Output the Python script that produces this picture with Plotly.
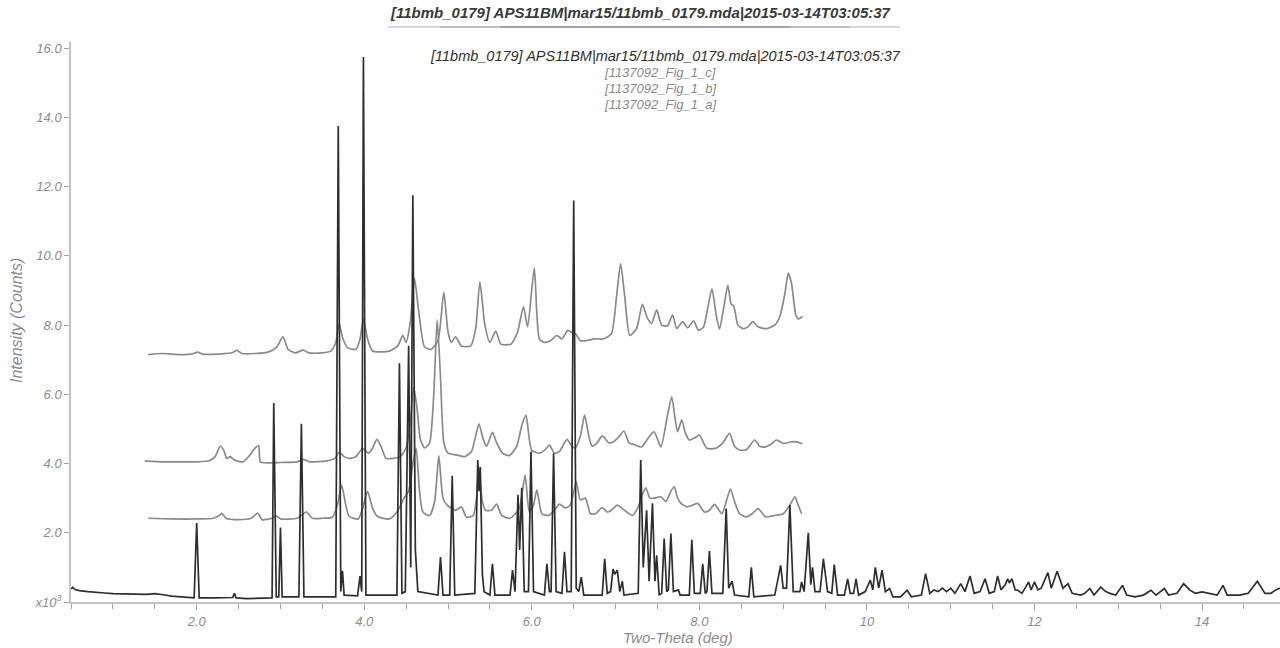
import plotly.graph_objects as go

# ---------------- data (intensity in thousands of counts) ----------------
black_tth = [0.50, 0.52, 0.55, 0.60, 0.70, 0.80, 0.90, 1.00, 1.10, 1.20, 1.30, 1.40, 1.50, 1.55, 1.60, 1.70, 1.80, 1.90,
             1.97, 2.00, 2.03, 2.20, 2.40, 2.43, 2.45, 2.47, 2.60, 2.80, 2.90, 2.92, 2.95, 2.98, 3.00, 3.02, 3.22, 3.25,
             3.28, 3.66, 3.69, 3.72, 3.74, 3.76, 3.92, 3.95, 3.97, 3.99, 4.02, 4.39, 4.42, 4.45, 4.49, 4.53, 4.555,
             4.58, 4.61, 4.64, 4.88, 4.91, 4.94, 5.02, 5.05, 5.08, 5.32, 5.355, 5.37, 5.385, 5.41, 5.43, 5.50, 5.53,
             5.56, 5.74, 5.77, 5.80, 5.835, 5.855, 5.88, 5.91, 5.96, 5.99, 6.02, 6.15, 6.18, 6.21, 6.23, 6.26, 6.29,
             6.36, 6.39, 6.42, 6.47, 6.50, 6.53, 6.56, 6.59, 6.62, 6.84, 6.87, 6.90, 6.94, 6.97, 6.99, 7.02, 7.05,
             7.08, 7.10, 7.27, 7.30, 7.33, 7.37, 7.40, 7.44, 7.47, 7.49, 7.52, 7.55, 7.58, 7.61, 7.63, 7.66, 7.69,
             7.75, 7.77, 7.88, 7.91, 7.94, 8.01, 8.04, 8.07, 8.09, 8.12, 8.15, 8.28, 8.32, 8.35, 8.39, 8.42, 8.59,
             8.62, 8.65, 8.90, 8.97, 9.00, 9.04, 9.08, 9.12, 9.20, 9.22, 9.25, 9.30, 9.33, 9.35, 9.38, 9.44, 9.48,
             9.53, 9.58, 9.61, 9.65, 9.73, 9.77, 9.80, 9.84, 9.87, 9.90, 9.98, 10.04, 10.07, 10.10, 10.14, 10.18,
             10.22, 10.27, 10.31, 10.40, 10.48, 10.53, 10.65, 10.70, 10.75, 10.80, 10.85, 10.90, 10.95, 11.00,
             11.05, 11.12, 11.17, 11.23, 11.28, 11.35, 11.41, 11.46, 11.52, 11.56, 11.60, 11.65, 11.68, 11.70,
             11.73, 11.77, 11.80, 11.85, 11.90, 11.93, 11.96, 12.00, 12.04, 12.08, 12.16, 12.20, 12.27, 12.34,
             12.40, 12.45, 12.55, 12.60, 12.66, 12.71, 12.79, 12.85, 12.90, 12.97, 13.05, 13.10, 13.20, 13.30,
             13.39, 13.45, 13.55, 13.60, 13.70, 13.78, 13.85, 13.92, 14.00, 14.10, 14.18, 14.25, 14.30, 14.45,
             14.55, 14.66, 14.75, 14.82, 14.88, 14.93]
black_int = [0.38, 0.42, 0.36, 0.33, 0.30, 0.27, 0.26, 0.24, 0.23, 0.22, 0.21, 0.22, 0.24, 0.23, 0.21, 0.17, 0.15, 0.13,
             0.12, 2.28, 0.12, 0.12, 0.11, 0.13, 0.25, 0.12, 0.10, 0.11, 0.12, 5.75, 0.15, 0.15, 2.15, 0.15, 0.15, 5.15,
             0.15, 0.15, 13.75, 0.30, 0.90, 0.20, 0.18, 0.75, 0.30, 15.75, 0.20, 0.20, 6.90, 0.25, 0.30, 7.40, 1.00,
             11.75, 1.50, 0.30, 0.20, 1.30, 0.20, 0.20, 3.65, 0.20, 0.25, 4.10, 3.20, 3.90, 0.80, 0.30, 0.20, 1.10,
             0.20, 0.20, 0.92, 0.30, 3.10, 1.50, 3.30, 0.30, 0.30, 4.35, 0.30, 0.20, 1.10, 0.30, 0.30, 4.30, 0.30,
             0.25, 1.45, 0.30, 0.30, 11.60, 0.40, 0.30, 0.72, 0.20, 0.20, 1.25, 0.25, 0.30, 0.95, 0.80, 0.92, 0.30,
             0.60, 0.20, 0.25, 4.10, 1.00, 2.65, 0.60, 2.85, 0.60, 1.35, 0.20, 0.25, 1.83, 0.30, 0.35, 1.98, 0.30,
             0.35, 0.20, 0.20, 1.80, 0.25, 0.25, 1.10, 0.25, 0.30, 1.47, 0.25, 0.25, 2.70, 0.40, 0.60, 0.20, 0.15,
             1.00, 0.15, 0.20, 1.06, 0.40, 0.40, 2.80, 0.30, 0.30, 0.58, 0.30, 2.00, 0.50, 1.00, 0.30, 0.30, 1.25,
             0.30, 0.25, 1.08, 0.20, 0.20, 0.67, 0.25, 0.25, 0.67, 0.20, 0.30, 0.63, 0.35, 1.00, 0.40, 0.92,
             0.30, 0.39, 0.15, 0.15, 0.34, 0.15, 0.20, 0.82, 0.25, 0.35, 0.30, 0.40, 0.30, 0.40,
             0.25, 0.53, 0.30, 0.75, 0.25, 0.30, 0.67, 0.25, 0.30, 0.75, 0.35, 0.50, 0.67, 0.55,
             0.67, 0.35, 0.34, 0.25, 0.45, 0.58, 0.35, 0.58, 0.35, 0.40, 0.85, 0.40, 0.89, 0.40,
             0.53, 0.25, 0.20, 0.25, 0.39, 0.20, 0.43, 0.30, 0.25, 0.20, 0.48, 0.20, 0.15, 0.20,
             0.34, 0.20, 0.39, 0.20, 0.25, 0.53, 0.35, 0.25, 0.29, 0.25, 0.20, 0.48, 0.20, 0.20,
             0.25, 0.60, 0.25, 0.25, 0.35, 0.40]

fig_c_tth = [1.42, 1.60, 1.80, 1.95, 2.01, 2.07, 2.30, 2.42, 2.48, 2.54, 2.70, 2.85, 2.95, 3.03, 3.09, 3.18, 3.27, 3.34,
             3.50, 3.60, 3.66, 3.70, 3.74, 3.80, 3.90, 3.95, 3.99, 4.04, 4.10, 4.30, 4.40, 4.46, 4.50, 4.55, 4.60,
             4.65, 4.72, 4.80, 4.88, 4.95, 5.00, 5.04, 5.09, 5.16, 5.27, 5.33, 5.38, 5.44, 5.50, 5.57, 5.63, 5.75,
             5.83, 5.90, 5.95, 6.03, 6.09, 6.15, 6.22, 6.30, 6.36, 6.43, 6.47, 6.52, 6.58, 6.65, 6.75, 6.85, 6.95,
             7.01, 7.06, 7.11, 7.17, 7.25, 7.32, 7.38, 7.43, 7.49, 7.55, 7.62, 7.68, 7.73, 7.80, 7.86, 7.93, 7.99,
             8.05, 8.10, 8.15, 8.20, 8.24, 8.29, 8.34, 8.38, 8.41, 8.46, 8.52, 8.58, 8.64, 8.70, 8.80, 8.90, 8.96,
             9.02, 9.06, 9.10, 9.15, 9.18, 9.23]
fig_c_int = [7.15, 7.18, 7.15, 7.17, 7.22, 7.16, 7.17, 7.20, 7.27, 7.18, 7.18, 7.22, 7.35, 7.66, 7.30, 7.20, 7.28, 7.20,
             7.20, 7.25, 7.50, 8.05, 7.65, 7.35, 7.30, 7.60, 8.18, 7.60, 7.25, 7.25, 7.40, 7.70, 7.50, 8.10, 9.35,
             8.40, 7.37, 7.30, 7.55, 8.95, 7.80, 7.50, 7.66, 7.40, 7.40, 7.90, 9.25, 8.00, 7.50, 7.83, 7.45, 7.45,
             7.80, 8.53, 7.95, 9.65, 7.60, 7.50, 7.55, 7.70, 7.60, 7.85, 7.80, 7.75, 7.55, 7.55, 7.60, 7.60, 7.75,
             8.80, 9.78, 8.80, 7.70, 7.90, 8.60, 8.20, 8.05, 8.44, 8.00, 7.98, 8.30, 7.90, 8.10, 7.92, 8.12, 7.85,
             7.95, 8.50, 9.05, 8.30, 7.88, 8.50, 9.15, 8.60, 8.55, 8.00, 7.90, 7.95, 8.10, 7.95, 7.90, 8.00, 8.25,
             8.90, 9.50, 9.20, 8.30, 8.18, 8.25]

fig_b_tth = [1.38, 1.60, 1.80, 2.00, 2.15, 2.22, 2.28, 2.32, 2.36, 2.40, 2.45, 2.55, 2.62, 2.70, 2.74, 2.76, 2.85, 3.00,
             3.20, 3.27, 3.35, 3.55, 3.65, 3.70, 3.76, 3.82, 3.90, 3.98, 4.05, 4.10, 4.15, 4.20, 4.26, 4.35, 4.43,
             4.50, 4.55, 4.59, 4.63, 4.67, 4.72, 4.78, 4.83, 4.87, 4.91, 4.95, 5.00, 5.10, 5.20, 5.28, 5.33, 5.37,
             5.42, 5.46, 5.53, 5.58, 5.65, 5.73, 5.82, 5.88, 5.93, 5.97, 6.00, 6.09, 6.16, 6.21, 6.27, 6.33, 6.42,
             6.48, 6.52, 6.58, 6.63, 6.68, 6.72, 6.78, 6.84, 6.92, 6.97, 7.03, 7.10, 7.16, 7.22, 7.31, 7.38, 7.46,
             7.54, 7.62, 7.67, 7.71, 7.74, 7.79, 7.83, 7.88, 7.95, 8.00, 8.09, 8.19, 8.28, 8.36, 8.42, 8.48, 8.56,
             8.66, 8.72, 8.79, 8.85, 8.92, 9.00, 9.10, 9.17, 9.23]
fig_b_int = [4.08, 4.05, 4.05, 4.05, 4.08, 4.20, 4.50, 4.40, 4.15, 4.20, 4.10, 4.05, 4.20, 4.45, 4.52, 4.05, 4.02, 4.03,
             4.05, 4.12, 4.05, 4.08, 4.15, 4.33, 4.20, 4.15, 4.20, 4.43, 4.30, 4.45, 4.70, 4.50, 4.15, 4.15, 4.20,
             4.45, 5.20, 6.20, 5.60, 4.70, 4.45, 4.60, 6.00, 8.15, 6.50, 4.60, 4.30, 4.25, 4.20, 4.35, 4.80, 5.15,
             4.70, 4.50, 4.90, 4.60, 4.30, 4.23, 4.50, 5.10, 5.40, 4.70, 4.38, 4.30, 4.40, 4.53, 4.30, 4.35, 4.70,
             4.50, 4.45, 4.80, 5.40, 4.80, 4.50, 4.60, 4.80, 4.60, 4.62, 4.75, 4.94, 4.60, 4.55, 4.48, 4.70, 4.92,
             4.48, 5.40, 5.93, 5.30, 4.92, 5.26, 4.90, 4.68, 4.75, 4.82, 4.44, 4.44, 4.60, 4.87, 4.50, 4.39, 4.40,
             4.68, 4.50, 4.48, 4.55, 4.68, 4.58, 4.63, 4.62, 4.57]

fig_a_tth = [1.42, 1.70, 2.00, 2.20, 2.27, 2.30, 2.35, 2.50, 2.65, 2.73, 2.78, 2.90, 2.95, 3.00, 3.20, 3.31, 3.38, 3.50,
             3.62, 3.68, 3.73, 3.78, 3.82, 3.93, 3.98, 4.04, 4.10, 4.16, 4.30, 4.39, 4.48, 4.53, 4.58, 4.62, 4.66,
             4.70, 4.78, 4.84, 4.89, 4.94, 4.99, 5.09, 5.16, 5.22, 5.30, 5.34, 5.37, 5.41, 5.45, 5.52, 5.58, 5.64,
             5.74, 5.85, 5.92, 5.97, 6.02, 6.06, 6.12, 6.20, 6.27, 6.33, 6.40, 6.46, 6.53, 6.58, 6.64, 6.70, 6.76,
             6.84, 6.90, 6.95, 7.02, 7.08, 7.15, 7.20, 7.26, 7.32, 7.36, 7.41, 7.46, 7.54, 7.60, 7.66, 7.70, 7.74,
             7.78, 7.85, 7.92, 7.98, 8.06, 8.12, 8.18, 8.27, 8.32, 8.37, 8.42, 8.48, 8.56, 8.63, 8.70, 8.79, 8.90,
             9.00, 9.08, 9.14, 9.18, 9.22]
fig_a_int = [2.42, 2.40, 2.40, 2.42, 2.50, 2.56, 2.42, 2.38, 2.42, 2.57, 2.38, 2.42, 2.49, 2.40, 2.42, 2.60, 2.42, 2.42,
             2.45, 2.80, 3.38, 2.80, 2.47, 2.40, 2.70, 3.20, 2.70, 2.47, 2.40, 2.60, 3.03, 3.20, 4.00, 4.43, 3.20,
             2.60, 2.50, 2.90, 4.22, 3.00, 2.80, 2.65, 2.75, 2.45, 2.50, 3.00, 3.90, 2.90, 2.65, 2.65, 2.83, 2.50,
             2.42, 2.70, 3.67, 2.60, 2.80, 3.24, 2.55, 2.50, 2.65, 2.83, 2.72, 2.80, 3.47, 2.95, 3.00, 2.55, 2.55,
             2.73, 2.60, 2.65, 2.80, 2.70, 2.57, 2.50, 2.70, 3.10, 3.30, 3.00, 3.00, 3.04, 2.90, 3.20, 3.33, 3.00,
             2.85, 2.75, 2.80, 2.85, 2.60, 2.65, 2.82, 2.55, 2.90, 3.26, 2.90, 2.55, 2.46, 2.55, 2.70, 2.46, 2.50,
             2.55, 2.80, 3.04, 2.80, 2.55]

title_text = "[11bmb_0179] APS11BM|mar15/11bmb_0179.mda|2015-03-14T03:05:37"
series_names = ["[11bmb_0179] APS11BM|mar15/11bmb_0179.mda|2015-03-14T03:05:37",
                "[1137092_Fig_1_c]", "[1137092_Fig_1_b]", "[1137092_Fig_1_a]"]
x_tickvals = [2, 4, 6, 8, 10, 12, 14]
x_ticktext = ["2.0", "4.0", "6.0", "8.0", "10", "12", "14"]
y_tickvals = [0, 2, 4, 6, 8, 10, 12, 14, 16]
y_ticktext = ["x10<sup>3</sup>", "2.0", "4.0", "6.0", "8.0", "10.0", "12.0", "14.0", "16.0"]

# ---------------- figure ----------------
FONT = "Liberation Sans, Arial, sans-serif"
GRAY = "#8a8a8a"
DARK = "#2e2e2e"
LABEL = "#8c8c8c"

fig = go.Figure()
for xs, ys, nm in [(fig_a_tth, fig_a_int, series_names[3]),
                   (fig_b_tth, fig_b_int, series_names[2]),
                   (fig_c_tth, fig_c_int, series_names[1])]:
    fig.add_trace(go.Scatter(x=xs, y=ys, mode="lines", name=nm,
                             line=dict(color=GRAY, width=1.7, shape="spline", smoothing=0.6),
                             showlegend=False))
fig.add_trace(go.Scatter(x=black_tth, y=black_int, mode="lines", name=series_names[0],
                         line=dict(color=DARK, width=1.7), showlegend=False))

# page is rendered with body margin removed (see post_script), so page px == figure px
W, H = 1280, 648
PL, PT, PB, PR = 71, 42, 602, 1280   # plot area in page pixels
pw, ph = PR - PL, PB - PT

def px(xp):
    return (xp - PL) / pw

def py(yp):
    return (PB - yp) / ph

annotations = [
    dict(text=title_text, x=px(640), y=py(13), xref="paper", yref="paper", showarrow=False,
         font=dict(family=FONT, size=15, color="#3a3a3a", weight="bold", style="italic"),
         xanchor="center", yanchor="middle"),
    dict(text=series_names[0], x=px(665), y=py(56), xref="paper", yref="paper", showarrow=False,
         font=dict(family=FONT, size=14.5, color="#303030", style="italic"), xanchor="center", yanchor="middle"),
]
for i, nm in enumerate(series_names[1:]):
    annotations.append(dict(text=nm, x=px(660), y=py(72 + 16 * i), xref="paper", yref="paper",
                            showarrow=False, font=dict(family=FONT, size=13, color=GRAY, style="italic"),
                            xanchor="center", yanchor="middle"))
annotations.append(dict(text="Intensity (Counts)", x=px(16), y=py(321), xref="paper", yref="paper",
                        showarrow=False, textangle=-90,
                        font=dict(family=FONT, size=16, color=LABEL, style="italic"),
                        xanchor="center", yanchor="middle"))
annotations.append(dict(text="Two-Theta (deg)", x=px(678), y=py(637), xref="paper", yref="paper",
                        showarrow=False, font=dict(family=FONT, size=15, color=LABEL, style="italic"),
                        xanchor="center", yanchor="middle"))

# title underline: light full-length rule with a darker centre part (gradient look)
underline_segments = [(388, 900, "#d6d6d6"), (440, 850, "#bdbdbd"), (500, 790, "#a6a6a6")]
shapes = [dict(type="line", xref="paper", yref="paper", x0=px(a), x1=px(b), y0=py(27), y1=py(27),
               line=dict(color=c, width=2)) for a, b, c in underline_segments]

fig.update_layout(
    width=W, height=H,
    margin=dict(l=PL, r=W - PR, t=PT, b=H - PB),
    paper_bgcolor="white", plot_bgcolor="white",
    annotations=annotations, shapes=shapes,
    showlegend=False,
    xaxis=dict(range=[0.5, 14.93], showgrid=False, zeroline=False, automargin=False,
               showline=True, linecolor="#c4c4c4", linewidth=2,
               tickmode="array", tickvals=x_tickvals, ticktext=x_ticktext,
               ticks="outside", ticklen=6, tickcolor="#a0a0a0",
               minor=dict(dtick=0.5, tick0=0.5, ticks="outside", ticklen=5, tickcolor="#a0a0a0"),
               tickfont=dict(family=FONT, size=13, color=LABEL, style="italic")),
    yaxis=dict(range=[0, 16.18], showgrid=False, zeroline=False, automargin=False,
               showline=True, linecolor="#c4c4c4", linewidth=1.5,
               tickmode="array", tickvals=y_tickvals, ticktext=y_ticktext,
               ticks="outside", ticklen=5, tickcolor="#a0a0a0",
               tickfont=dict(family=FONT, size=13, color=LABEL, style="italic")),
)

fig.write_html("out.html", config={"displayModeBar": False},
               post_script="document.body.style.margin='0px';document.body.style.overflow='hidden';")
